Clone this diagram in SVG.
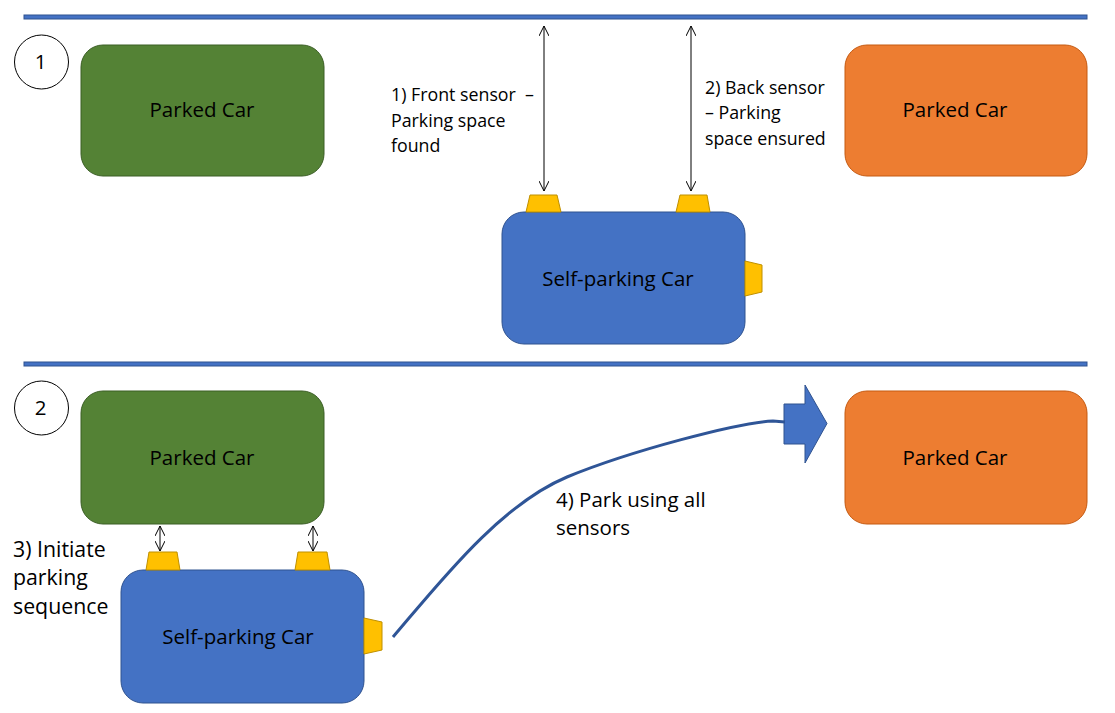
<svg xmlns="http://www.w3.org/2000/svg" width="1115" height="713" viewBox="0 0 1115 713">
<defs>
<style>
.bar{fill:#4472C4;stroke:#2F528F;stroke-width:1}
.green{fill:#548235;stroke:#3B5E25;stroke-width:1}
.orange{fill:#ED7D31;stroke:#C55A11;stroke-width:1}
.blue{fill:#4472C4;stroke:#2F528F;stroke-width:1}
.sensor{fill:#FFC000;stroke:#BF9000;stroke-width:1}
.num{fill:#fff;stroke:#000;stroke-width:1}
.t{font-family:"Open Sans","Liberation Sans",sans-serif;fill:#000;white-space:pre}
.lbl{font-size:17.8px}
.lbl3{font-size:21.3px}
.lbl4{font-size:20.5px}
.car{font-size:20.5px;text-anchor:middle}
.badge{font-size:20.5px;text-anchor:middle}
.dbl{stroke:#000;stroke-width:1;fill:none;marker-start:url(#ah);marker-end:url(#ah)}
</style>
<marker id="ah" viewBox="0 0 10 10" refX="10" refY="5" markerWidth="10" markerHeight="10" markerUnits="userSpaceOnUse" orient="auto-start-reverse">
<path d="M0,0 L10,5 L0,10" fill="none" stroke="#000" stroke-width="1"/>
</marker>
</defs>
<rect width="1115" height="713" fill="#fff"/>
<g id="dividers">
<rect class="bar" x="24" y="15" width="1063" height="4"/>
<rect class="bar" x="24" y="362" width="1063" height="4"/>
</g>
<g id="step1-badge"><circle class="num" cx="41.5" cy="62" r="27"/><text class="t badge" x="40.5" y="69">1</text></g>
<g id="step2-badge"><circle class="num" cx="41.5" cy="408" r="27"/><text class="t badge" x="40.5" y="415">2</text></g>
<g id="parked-green-1"><rect class="green" x="81" y="45" width="243" height="131" rx="22"/><text class="t car" x="202" y="117">Parked Car</text></g>
<g id="parked-orange-1"><rect class="orange" x="845" y="45" width="242" height="131" rx="22"/><text class="t car" x="955" y="117">Parked Car</text></g>
<g id="self-car-1">
<rect class="blue" x="502" y="212" width="243" height="132" rx="22"/>
<text class="t car" x="618" y="286">Self-parking Car</text>
<polygon class="sensor" points="526,212 561,212 557,195 530,195"/>
<polygon class="sensor" points="676,212 710,212 707,195 680,195"/>
<polygon class="sensor" points="745,261 762,265 762,292 745,296"/>
</g>
<g id="parked-green-2"><rect class="green" x="81" y="391" width="243" height="133" rx="22"/><text class="t car" x="202" y="465">Parked Car</text></g>
<g id="parked-orange-2"><rect class="orange" x="845" y="391" width="242" height="133" rx="22"/><text class="t car" x="955" y="465">Parked Car</text></g>
<g id="self-car-2">
<rect class="blue" x="121" y="570" width="243" height="133" rx="22"/>
<text class="t car" x="238" y="644">Self-parking Car</text>
<polygon class="sensor" points="146,570 180,570 177,552 149,552"/>
<polygon class="sensor" points="295,570 330,570 327,552 298,552"/>
<polygon class="sensor" points="364,618 382,622 382,650 364,654"/>
</g>
<g id="big-arrow"><polygon class="blue" points="784,404 805,404 805,385 827,423.5 805,463 805,444 784,444"/></g>
<g id="connectors">
<line class="dbl" x1="544" y1="26" x2="544" y2="191"/>
<line class="dbl" x1="691" y1="26" x2="691" y2="191"/>
<line class="dbl" x1="160" y1="526" x2="160" y2="551"/>
<line class="dbl" x1="313" y1="526" x2="313" y2="551"/>
<path d="M393,637 C440,582 500,505 567,477 C630,451 740,422 773,421 L785,422" fill="none" stroke="#2F5597" stroke-width="3"/>
</g>
<g id="labels">
<text class="t lbl" x="391" y="101">1) Front sensor  –</text>
<text class="t lbl" x="391" y="127">Parking space</text>
<text class="t lbl" x="391" y="152">found</text>
<text class="t lbl" x="705" y="94">2) Back sensor</text>
<text class="t lbl" x="705" y="119">– Parking</text>
<text class="t lbl" x="705" y="145">space ensured</text>
<text class="t lbl3" x="13" y="557">3) Initiate</text>
<text class="t lbl3" x="13" y="585">parking</text>
<text class="t lbl3" x="13" y="614">sequence</text>
<text class="t lbl4" x="556" y="507">4) Park using all</text>
<text class="t lbl4" x="556" y="535">sensors</text>
</g>
</svg>
